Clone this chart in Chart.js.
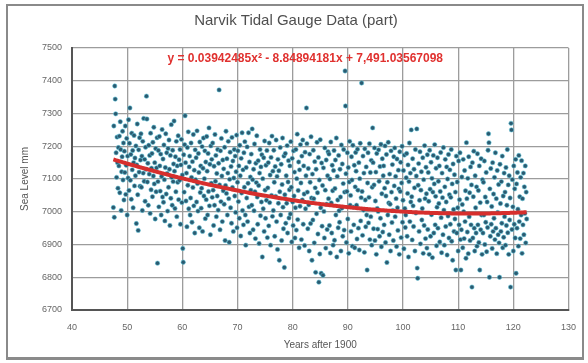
<!DOCTYPE html>
<html>
<head>
<meta charset="utf-8">
<script src="https://cdn.jsdelivr.net/npm/chart.js@4.4.1/dist/chart.umd.min.js"></script>
<style>
  html, body { margin: 0; padding: 0; background: #fff; }
  #wrap { position: relative; width: 588px; height: 363px; }
  #frame {
    position: absolute; left: 6px; top: 4px; width: 574px; height: 351px;
    border: 2px solid #8a8a8a; border-bottom-width: 3px; pointer-events: none;
  }
  canvas { position: absolute; left: 0; top: 0; }
</style>
</head>
<body>
<div id="wrap">
  <canvas id="tideChart" width="588" height="363"></canvas>
  <div id="frame"></div>
</div>
<script>
// monthly mean sea level (mm), one row per year, first month at x = 47.5
const startYear = 47.5;
const seaLevel = [
  [7013, 7262, 6983, 7384, 7344, 7299, 7180, 7105, 7228, 7150, 7072, 7196],
  [7140, 7231, 7058, 7275, 7190, 7004, 7122, 7168, 7246, 7097, 7210, 7036],
  [7185, 7120, 7262, 7053, 7142, 7224, 6990, 7170, 7103, 7281, 7065, 7209],
  [7317, 7096, 7175, 7038, 7240, 7128, 7187, 7012, 7150, 7233, 7079, 7164],
  [7110, 7201, 6964, 7143, 7268, 7052, 6943, 7189, 7121, 7226, 7078, 7158],
  [7238, 7075, 7170, 7004, 7215, 7118, 7285, 7093, 7160, 7032, 7197, 7130],
  [7353, 7283, 7091, 7148, 7020, 7203, 7115, 7172, 6995, 7240, 7067, 7133],
  [7178, 7046, 7212, 7109, 7258, 7085, 7150, 6978, 7193, 7061, 7134, 7226],
  [6843, 7092, 7187, 7015, 7230, 7140, 7063, 7176, 6990, 7108, 7251, 7045],
  [7161, 7029, 7204, 7098, 6972, 7135, 7238, 7054, 7180, 7117, 7002, 7193],
  [7075, 7219, 7130, 6958, 7172, 7041, 7266, 7105, 7020, 7188, 7092, 7146],
  [7277, 7124, 7010, 7168, 7061, 7215, 6985, 7140, 7090, 7232, 7037, 7159],
  [7096, 7190, 6962, 7143, 7221, 7028, 7112, 6888, 6846, 7174, 7060, 7205],
  [7293, 7150, 7033, 7118, 6954, 7196, 7081, 7244, 7009, 7137, 7170, 6990],
  [7042, 7210, 7105, 6968, 7153, 7074, 7236, 7018, 7127, 6935, 7189, 7098],
  [7165, 7030, 7247, 7086, 7002, 7178, 7120, 6951, 7213, 7059, 7140, 7011],
  [7072, 7199, 6940, 7133, 7225, 7048, 7101, 7186, 6979, 7152, 7037, 7230],
  [7124, 6990, 7178, 7062, 7256, 7018, 7145, 6930, 7201, 7087, 7160, 7044],
  [7210, 7066, 6958, 7139, 7020, 7236, 7093, 7172, 6985, 7117, 7048, 7190],
  [7005, 7148, 7372, 7082, 6945, 7186, 7031, 7224, 7109, 6970, 7158, 7064],
  [7131, 7023, 7197, 6912, 7080, 7246, 7056, 7162, 6990, 7118, 7215, 7040],
  [6907, 7099, 7182, 7012, 7138, 6965, 7227, 7074, 7155, 6940, 7103, 7190],
  [7048, 7170, 6998, 7122, 7234, 6951, 7090, 7186, 7031, 7140, 6980, 7203],
  [7110, 6926, 7163, 7057, 7241, 7004, 7128, 6960, 7180, 7075, 7214, 6990],
  [6898, 7135, 7042, 7198, 6970, 7087, 7241, 7015, 7152, 6935, 7106, 7066],
  [7176, 7020, 7253, 7098, 6945, 7130, 7003, 7207, 7061, 6918, 7148, 7089],
  [7232, 7045, 6962, 7156, 7080, 6903, 7118, 7190, 6988, 7137, 7030, 7174],
  [6862, 7101, 7009, 7165, 6940, 7216, 7066, 6980, 7142, 7035, 7187, 6921],
  [7073, 7150, 6957, 7210, 7028, 7112, 6898, 7166, 7050, 7231, 6986, 7124],
  [7004, 7188, 7090, 6925, 7138, 7047, 7219, 6970, 7108, 6885, 7160, 7026],
  [7125, 6852, 7061, 7196, 6990, 7145, 6912, 7083, 7225, 7014, 6948, 7170],
  [6830, 7052, 7178, 6965, 7110, 7026, 7202, 6935, 7091, 7156, 6981, 7067],
  [7140, 6993, 7214, 7075, 6908, 7163, 7030, 6958, 7186, 7048, 7121, 6920],
  [7012, 7190, 6944, 7101, 7237, 6976, 7065, 7152, 6890, 7128, 7017, 7205],
  [7088, 6915, 7170, 7036, 7219, 6962, 7140, 7054, 6897, 7182, 7009, 7110],
  [7317, 7208, 7060, 6948, 7132, 7021, 6880, 7176, 7090, 6964, 7229, 7042],
  [6852, 7115, 6975, 7188, 7040, 6905, 7153, 7073, 6815, 7130, 6994, 7212],
  [7058, 6932, 7166, 6785, 7097, 6871, 7220, 7012, 6812, 7149, 6956, 7080],
  [6806, 7134, 7001, 6920, 7195, 7066, 6889, 7158, 7023, 6946, 7110, 7183],
  [7040, 7176, 6958, 7100, 6874, 7213, 7027, 6935, 7142, 7064, 6898, 7126],
  [7187, 6913, 7071, 7158, 6990, 7225, 6862, 7108, 7036, 6951, 7172, 7003],
  [6968, 7130, 7045, 6880, 7204, 7011, 7146, 6925, 7086, 7190, 6944, 7060],
  [7430, 7323, 7116, 6906, 7062, 7180, 6978, 7135, 6873, 7091, 7215, 7020],
  [7050, 6940, 7168, 7097, 6895, 7203, 7014, 6960, 7142, 6890, 7076, 7181],
  [7124, 7020, 6917, 7191, 7066, 6950, 7150, 6883, 7101, 7209, 6972, 7043],
  [7393, 7062, 6928, 7170, 7005, 7118, 6876, 7192, 7036, 6954, 7137, 6990],
  [6822, 7088, 7180, 6966, 7044, 7208, 6915, 7120, 6985, 7157, 6898, 7075],
  [7256, 7150, 6948, 7082, 7195, 6912, 7033, 7121, 6870, 7178, 7010, 6947],
  [7001, 7189, 7093, 6925, 7138, 6980, 7206, 6893, 7055, 7162, 6938, 7110],
  [7140, 6960, 7072, 7201, 6906, 7048, 7175, 6845, 7090, 6990, 7212, 7027],
  [6930, 7115, 7023, 6880, 7186, 7060, 6967, 7144, 7004, 6912, 7168, 7079],
  [7195, 6985, 7108, 7040, 6894, 7161, 7012, 6943, 7127, 7070, 6870, 7183],
  [7062, 7151, 6921, 7088, 7200, 6968, 7035, 7126, 6887, 7173, 7010, 6952],
  [6990, 7104, 7178, 6925, 7056, 7143, 6862, 7092, 7210, 6970, 7118, 7030],
  [7250, 7046, 6914, 7162, 7018, 6955, 7130, 7073, 6880, 7190, 6996, 7109],
  [7253, 6828, 6797, 7081, 7147, 6940, 7035, 7183, 6902, 7066, 7122, 6975],
  [7010, 7165, 6873, 7098, 6958, 7202, 7040, 6918, 7136, 7055, 6889, 7174],
  [6946, 7120, 7032, 6870, 7188, 7069, 6925, 7151, 6991, 7102, 6860, 7060],
  [7172, 6935, 7085, 7205, 6960, 7047, 7133, 6896, 7014, 7165, 6950, 7093],
  [7025, 7140, 6908, 7062, 7181, 6982, 6875, 7118, 7043, 6930, 7196, 7005],
  [6898, 7076, 7160, 6955, 7030, 7137, 6868, 7100, 6987, 7175, 6920, 7052],
  [7128, 6962, 7044, 7190, 6910, 7085, 6852, 7146, 7007, 6940, 7113, 6978],
  [7060, 6822, 7170, 6935, 7091, 7012, 6880, 7155, 6960, 7037, 7180, 6915],
  [6822, 6945, 7106, 7022, 6890, 7160, 7000, 6918, 7126, 6970, 7064, 6858],
  [7211, 7040, 6938, 7102, 6872, 7168, 6985, 7058, 6912, 7137, 6960, 7082],
  [6770, 7150, 6920, 7046, 7185, 6950, 6880, 7110, 7012, 6935, 7076, 6895],
  [7177, 6960, 7065, 6906, 7140, 6822, 7028, 6945, 7162, 6990, 6870, 7098],
  [6935, 7090, 6990, 7155, 6900, 7045, 6968, 7120, 6878, 7030, 6952, 7188],
  [7238, 7211, 6800, 7070, 6925, 7132, 6962, 7016, 6888, 7150, 6940, 7054],
  [6980, 7105, 6915, 7180, 6950, 7040, 6872, 7126, 6998, 6930, 7083, 6905],
  [6800, 7145, 7025, 6940, 7092, 6965, 7170, 6890, 7048, 6922, 7118, 6985],
  [7060, 6898, 7135, 6958, 7020, 7190, 6936, 7082, 6870, 7110, 6975, 7042],
  [6770, 7270, 7250, 6946, 7098, 7015, 6880, 7140, 6962, 7070, 6920, 7160],
  [6812, 7085, 6950, 7120, 7008, 6895, 7172, 6970, 7046, 6918, 7105, 6990],
  [7156, 6873, 7040, 6960, 7118, 6930, 7076, 6995, 7140, 6905, 7060, 6978]
];

// polynomial trendline coefficients: a*x^2 + b*x + c
const trendCoef = [0.03942485, -8.84894181, 7491.03567098];
const trendLabel = "y = 0.03942485x\u00b2 - 8.84894181x + 7,491.03567098";

const xTicks = [40, 50, 60, 70, 80, 90, 100, 110, 120, 130];
const yTicks = [6700, 6800, 6900, 7000, 7100, 7200, 7300, 7400, 7500];

const points = [];
seaLevel.forEach((row, i) => {
  row.forEach((v, m) => points.push({ x: startYear + i + m / 12, y: v }));
});

const trend = [];
for (let i = 0; i < points.length; i += 6) {
  const x = points[i].x;
  trend.push({ x: x, y: trendCoef[0] * x * x + trendCoef[1] * x + trendCoef[2] });
}
const lastX = points[points.length - 1].x;
trend.push({ x: lastX, y: trendCoef[0] * lastX * lastX + trendCoef[1] * lastX + trendCoef[2] });

// equation text above the data
const equationPlugin = {
  id: "equation",
  afterDatasetsDraw(chart) {
    const { ctx, chartArea } = chart;
    ctx.save();
    ctx.font = "bold 12px 'Liberation Sans', Arial, sans-serif";
    ctx.fillStyle = "#e0312f";
    ctx.textAlign = "center";
    ctx.textBaseline = "middle";
    ctx.fillText(trendLabel, (chartArea.left + chartArea.right) / 2 - 15, chartArea.top + 11);
    ctx.restore();
  }
};

const ctx = document.getElementById("tideChart").getContext("2d");

new Chart(ctx, {
  type: "scatter",
  data: {
    datasets: [
      {
        label: "Trend",
        data: trend,
        showLine: true,
        borderColor: "#d62f2d",
        borderWidth: 4,
        pointRadius: 0,
        tension: 0.2,
        order: 0
      },
      {
        label: "Sea level",
        data: points,
        pointRadius: 2.2,
        pointBackgroundColor: "#2b5a70",
        pointBorderColor: "rgba(95, 200, 222, 0.55)",
        pointBorderWidth: 1,
        order: 1
      }
    ]
  },
  options: {
    responsive: false,
    animation: false,
    layout: { padding: { top: 5, left: 14, right: 10, bottom: 8 } },
    plugins: {
      legend: { display: false },
      tooltip: { enabled: false },
      title: {
        display: true,
        text: "Narvik Tidal Gauge Data (part)",
        color: "#4f4f4f",
        font: { family: "'Liberation Sans', Arial, sans-serif", size: 15, weight: "normal" },
        padding: { top: 7, bottom: 18 }
      }
    },
    scales: {
      x: {
        type: "linear",
        min: 40,
        max: 130,
        afterBuildTicks: (scale) => { scale.ticks = xTicks.map(v => ({ value: v })); },
        afterFit: (scale) => { scale.height = 45; },
        grid: { color: "#9c9c9c", lineWidth: 1.3, drawTicks: false },
        border: { color: "#555555", width: 2 },
        ticks: {
          color: "#666666",
          padding: 12,
          font: { family: "'Liberation Sans', Arial, sans-serif", size: 9 }
        },
        title: {
          display: true,
          text: "Years after 1900",
          color: "#555555",
          padding: { top: 0, bottom: 4 },
          font: { family: "'Liberation Sans', Arial, sans-serif", size: 10 }
        }
      },
      y: {
        min: 6700,
        max: 7500,
        afterBuildTicks: (scale) => { scale.ticks = yTicks.map(v => ({ value: v })); },
        afterFit: (scale) => { scale.width = 58; },
        grid: { color: "#9c9c9c", lineWidth: 1.3, drawTicks: false },
        border: { color: "#555555", width: 2 },
        ticks: {
          color: "#666666",
          padding: 10,
          callback: (v) => String(v),
          font: { family: "'Liberation Sans', Arial, sans-serif", size: 9 }
        },
        title: {
          display: true,
          text: "Sea Level mm",
          color: "#555555",
          padding: { top: 5, bottom: 0 },
          font: { family: "'Liberation Sans', Arial, sans-serif", size: 10 }
        }
      }
    }
  },
  plugins: [equationPlugin]
});
</script>
</body>
</html>
